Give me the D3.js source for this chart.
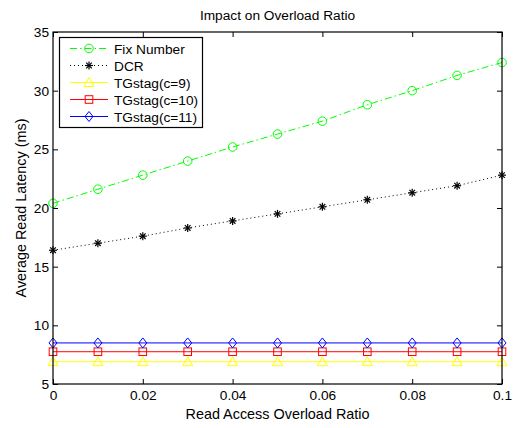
<!DOCTYPE html>
<html>
<head>
<meta charset="utf-8">
<script src="https://cdn.jsdelivr.net/npm/d3@7"></script>
<style>
  body { margin: 0; background: #fff; }
  svg { display: block; font-family: "Liberation Sans", Arial, sans-serif; }
</style>
</head>
<body>
<svg id="chart" width="517" height="428"></svg>
<script>
// Read access overload ratio on the x axis
const ratios = [0, 0.01, 0.02, 0.03, 0.04, 0.05, 0.06, 0.07, 0.08, 0.09, 0.1];

// Average read latency (ms) per scheme
const fixNumber = [20.4, 21.6, 22.8, 24.0, 25.2, 26.3, 27.4, 28.8, 30.0, 31.3, 32.4];
const dcr       = [16.4, 17.0, 17.6, 18.3, 18.9, 19.5, 20.1, 20.7, 21.3, 21.9, 22.8];
const tgC9      = [6.9, 6.9, 6.9, 6.9, 6.9, 6.9, 6.9, 6.9, 6.9, 6.9, 6.9];
const tgC10     = [7.75, 7.75, 7.75, 7.75, 7.75, 7.75, 7.75, 7.75, 7.75, 7.75, 7.75];
const tgC11     = [8.5, 8.5, 8.5, 8.5, 8.5, 8.5, 8.5, 8.5, 8.5, 8.5, 8.5];

const seriesNames = ["Fix Number", "DCR", "TGstag(c=9)", "TGstag(c=10)", "TGstag(c=11)"];
const xTicks = [0, 0.02, 0.04, 0.06, 0.08, 0.1];
const yTicks = [5, 10, 15, 20, 25, 30, 35];

const series = [
  { name: seriesNames[0], values: fixNumber, color: "#00ff00", dash: "7,3,1.5,3", marker: "circle" },
  { name: seriesNames[1], values: dcr,       color: "#000000", dash: "1,3",       marker: "star" },
  { name: seriesNames[2], values: tgC9,      color: "#ffff00", dash: null,        marker: "triangle" },
  { name: seriesNames[3], values: tgC10,     color: "#ff0000", dash: null,        marker: "square" },
  { name: seriesNames[4], values: tgC11,     color: "#0000ff", dash: null,        marker: "diamond" }
];

const svg = d3.select("#chart");
const m = { left: 53, top: 32, right: 502, bottom: 384 };

const x = d3.scaleLinear().domain([0, 0.1]).range([m.left, m.right]);
const y = d3.scaleLinear().domain([5, 35]).range([m.bottom, m.top]);

// Marker shapes
function drawMarker(g, type, cx, cy, color) {
  if (type === "circle") {
    g.append("circle").attr("cx", cx).attr("cy", cy).attr("r", 4.3)
      .attr("fill", "none").attr("stroke", color).attr("stroke-width", 1);
  } else if (type === "star") {
    const r = 4;
    const sg = g.append("g").attr("stroke", color).attr("stroke-width", 1.2);
    [[-r, 0, r, 0], [0, -r, 0, r], [-r * 0.7, -r * 0.7, r * 0.7, r * 0.7], [-r * 0.7, r * 0.7, r * 0.7, -r * 0.7]]
      .forEach(s => sg.append("line").attr("x1", cx + s[0]).attr("y1", cy + s[1]).attr("x2", cx + s[2]).attr("y2", cy + s[3]));
  } else if (type === "triangle") {
    const r = 5;
    g.append("path").attr("d", `M${cx},${cy - r}L${cx + r},${cy + r * 0.8}L${cx - r},${cy + r * 0.8}Z`)
      .attr("fill", "none").attr("stroke", color).attr("stroke-width", 1);
  } else if (type === "square") {
    const r = 3.8;
    g.append("rect").attr("x", cx - r).attr("y", cy - r).attr("width", 2 * r).attr("height", 2 * r)
      .attr("fill", "none").attr("stroke", color).attr("stroke-width", 1);
  } else if (type === "diamond") {
    const r = 5;
    g.append("path").attr("d", `M${cx},${cy - r}L${cx + r * 0.8},${cy}L${cx},${cy + r}L${cx - r * 0.8},${cy}Z`)
      .attr("fill", "none").attr("stroke", color).attr("stroke-width", 1);
  }
}

// Plot background
svg.append("rect").attr("x", m.left).attr("y", m.top)
  .attr("width", m.right - m.left).attr("height", m.bottom - m.top).attr("fill", "#fff");

// Series lines and markers
const line = d3.line().x((d, i) => x(ratios[i])).y(d => y(d));
series.forEach(s => {
  const g = svg.append("g");
  g.append("path").datum(s.values).attr("d", line)
    .attr("fill", "none").attr("stroke", s.color).attr("stroke-width", 1)
    .attr("stroke-dasharray", s.dash);
  s.values.forEach((v, i) => drawMarker(g, s.marker, x(ratios[i]), y(v), s.color));
});

// Axes (ticks point inward on all four sides)
const tickLen = 5;
const fmtX = d => d === 0 ? "0" : d3.format("~g")(d);
svg.append("g").attr("transform", `translate(0,${m.bottom})`)
  .call(d3.axisBottom(x).tickValues(xTicks).tickSize(-tickLen).tickPadding(6).tickFormat(fmtX))
  .call(g => g.select(".domain").remove());
svg.append("g").attr("transform", `translate(0,${m.top})`)
  .call(d3.axisTop(x).tickValues(xTicks).tickSize(-tickLen).tickFormat(""))
  .call(g => g.select(".domain").remove());
svg.append("g").attr("transform", `translate(${m.left},0)`)
  .call(d3.axisLeft(y).tickValues(yTicks).tickSize(-tickLen).tickPadding(4))
  .call(g => g.select(".domain").remove());
svg.append("g").attr("transform", `translate(${m.right},0)`)
  .call(d3.axisRight(y).tickValues(yTicks).tickSize(-tickLen).tickFormat(""))
  .call(g => g.select(".domain").remove());
svg.selectAll(".tick text").attr("font-size", 13.7).attr("fill", "#000")
  .attr("font-family", "'Liberation Sans', Arial, sans-serif");
svg.selectAll(".tick line").attr("stroke", "#000");

// Plot frame
svg.append("rect").attr("x", m.left).attr("y", m.top)
  .attr("width", m.right - m.left).attr("height", m.bottom - m.top)
  .attr("fill", "none").attr("stroke", "#000").attr("stroke-width", 1.2);

// Title and axis labels
svg.append("text").attr("x", (m.left + m.right) / 2).attr("y", 20)
  .attr("text-anchor", "middle").attr("font-size", 13.7).text("Impact on Overload Ratio");
svg.append("text").attr("x", (m.left + m.right) / 2).attr("y", 419)
  .attr("text-anchor", "middle").attr("font-size", 14.4).text("Read Access Overload Ratio");
svg.append("text").attr("transform", `translate(26,${(m.top + m.bottom) / 2}) rotate(-90)`)
  .attr("text-anchor", "middle").attr("font-size", 14.4).text("Average Read Latency (ms)");

// Legend
const lg = svg.append("g");
lg.append("rect").attr("x", 59.5).attr("y", 37.5).attr("width", 143).attr("height", 90)
  .attr("fill", "#fff").attr("stroke", "#000").attr("stroke-width", 1.2);
series.forEach((s, i) => {
  const cy = 48.5 + i * 17;
  lg.append("line").attr("x1", 70).attr("x2", 108).attr("y1", cy).attr("y2", cy)
    .attr("stroke", s.color).attr("stroke-width", 1).attr("stroke-dasharray", s.dash);
  drawMarker(lg, s.marker, 89, cy, s.color);
  lg.append("text").attr("x", 114).attr("y", cy + 5).attr("font-size", 13.7).text(s.name);
});
</script>
</body>
</html>
